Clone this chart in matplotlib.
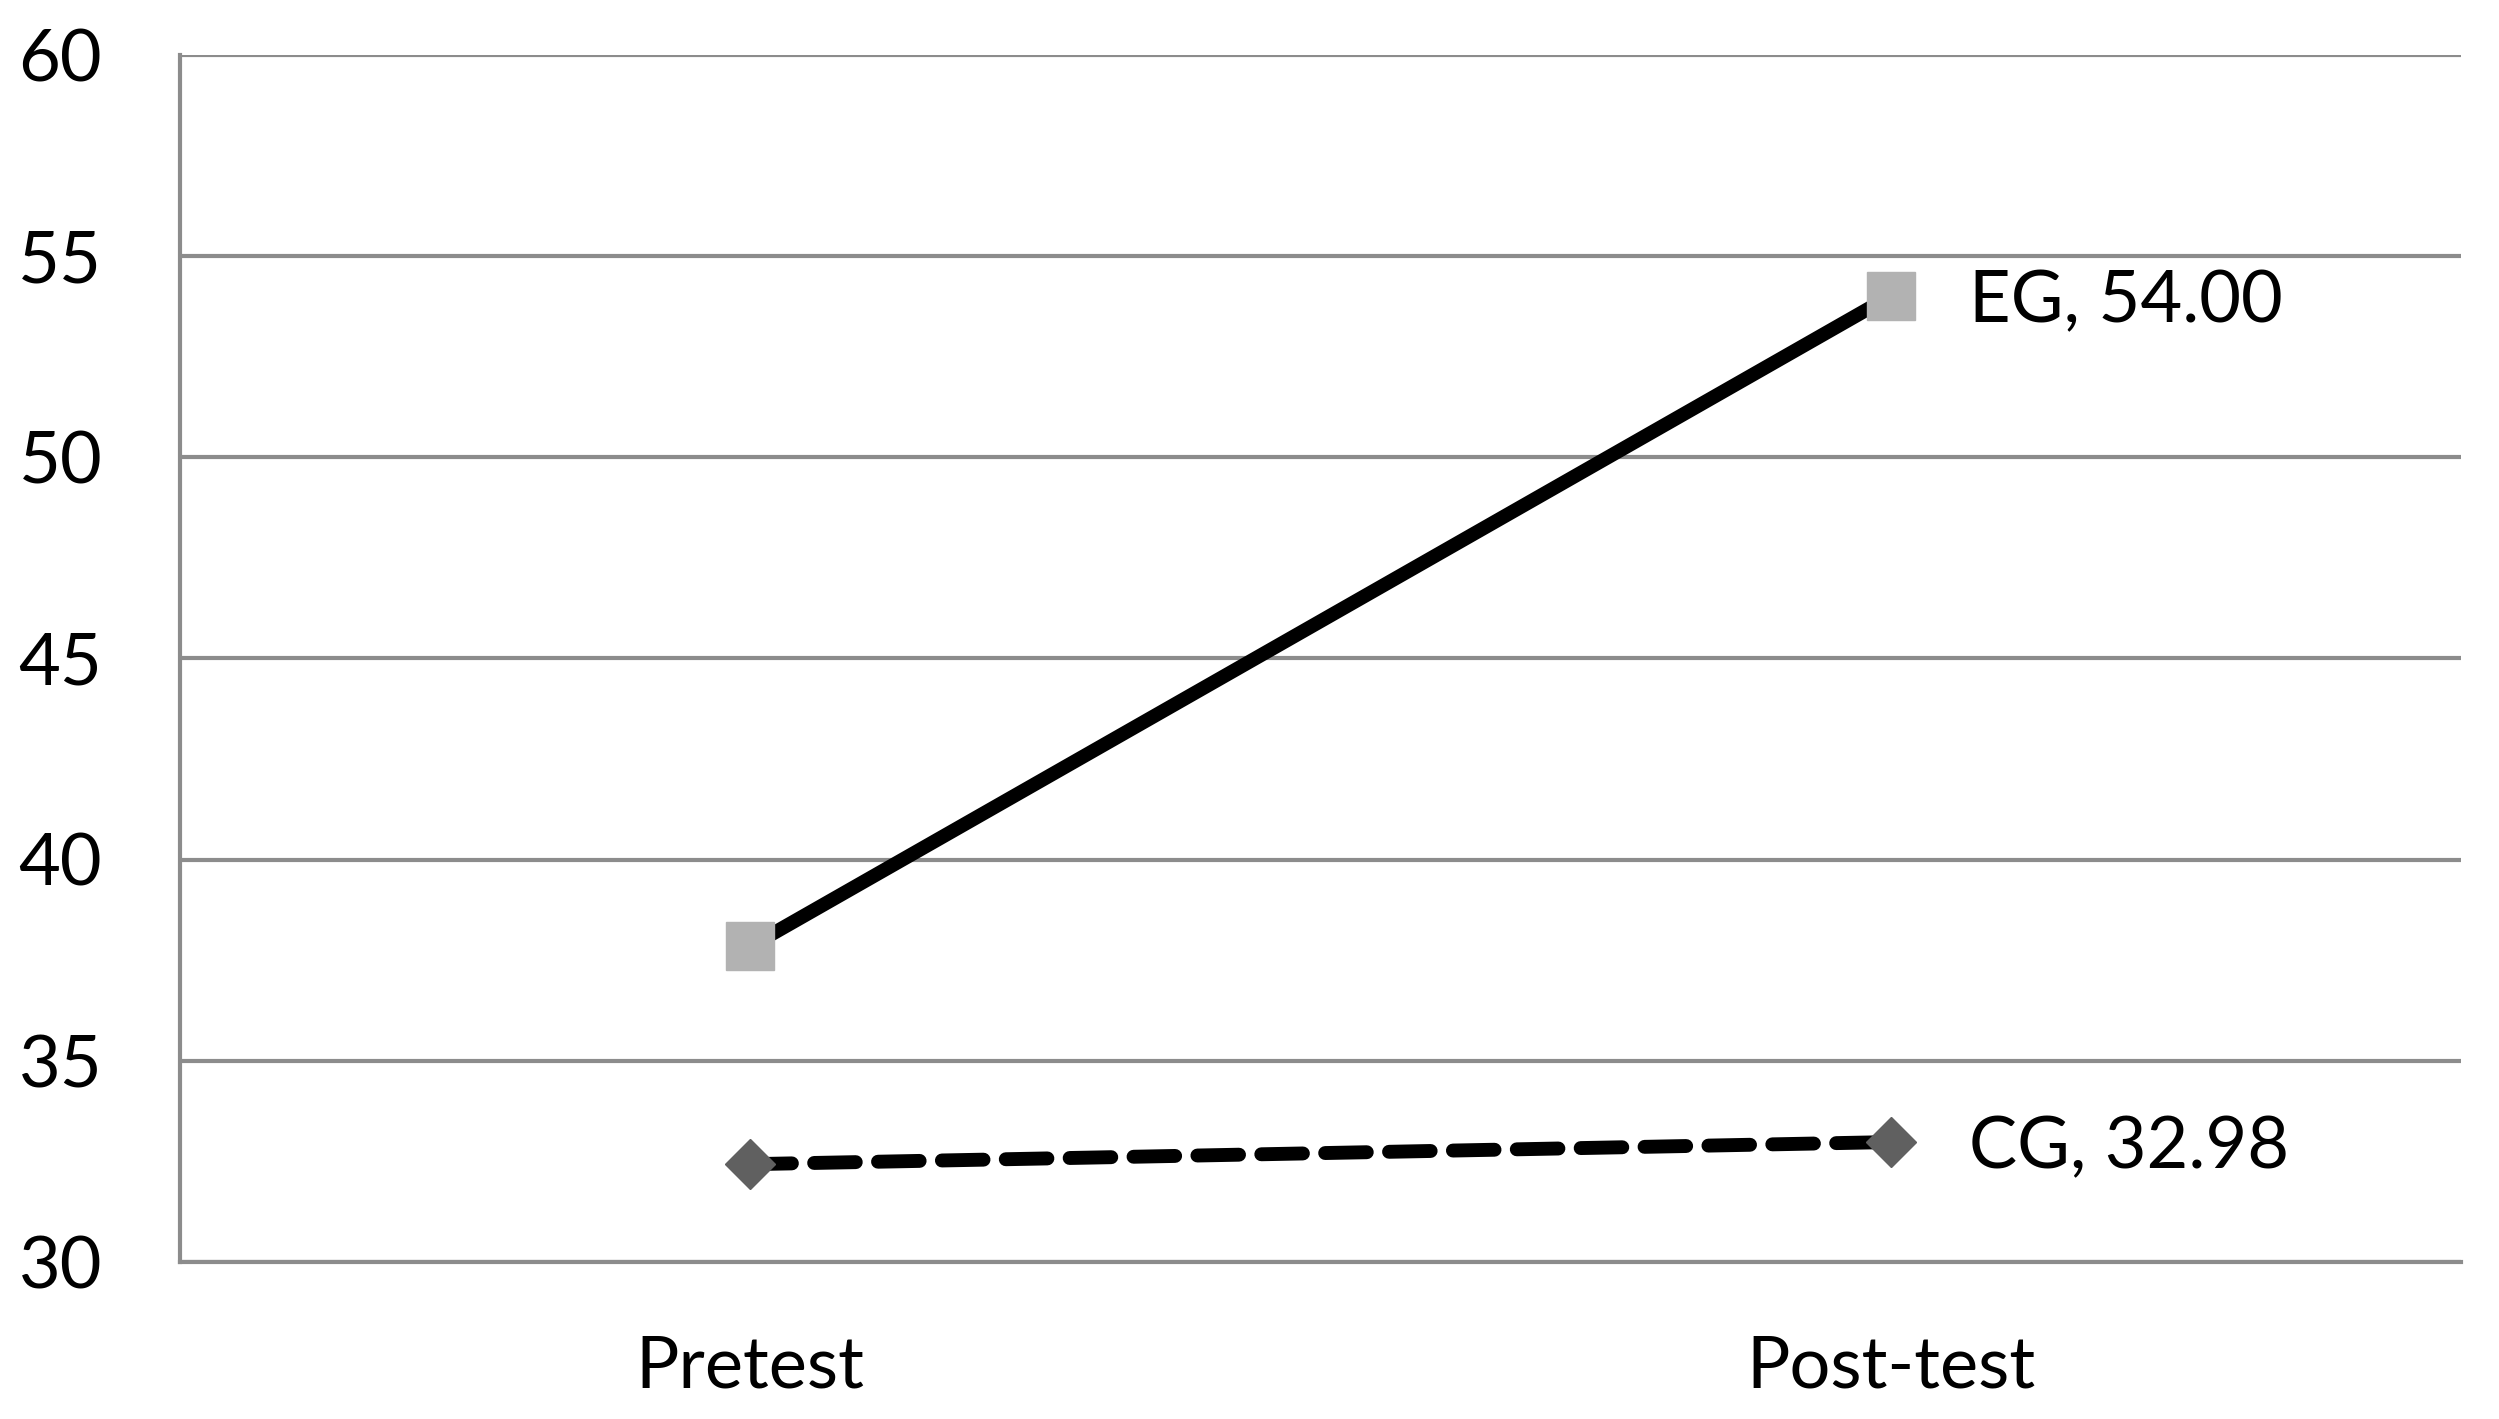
import matplotlib
matplotlib.use("Agg")
import matplotlib.pyplot as plt

# chart data
phases = ["Pretest", "Post-test"]
eg_scores = [37.84, 54.00]
cg_scores = [32.43, 32.98]
group_names = ["EG", "CG"]
y_ticks = [30, 35, 40, 45, 50, 55, 60]

plt.rcParams["font.family"] = ["Lato", "DejaVu Sans"]

fig = plt.figure(figsize=(24.99, 14.19), dpi=100)
ax = fig.add_axes([180 / 2499, 1 - 1262 / 1419, (2461 - 180) / 2499, (1262 - 54.5) / 1419])

x = list(range(len(phases)))
grid_col = "#8c8c8c"
fs = 52

# EG: solid black line, light grey squares
ax.plot(x, eg_scores, color="black", lw=10, solid_capstyle="butt", zorder=3)
ax.plot(x, eg_scores, ls="none", marker="s", ms=34, color="#b2b2b2",
        mec="#b2b2b2", zorder=4)

# CG: dashed black line, dark grey diamonds
ax.plot(x, cg_scores, color="black", lw=10, ls=(0, (3.0, 1.6)),
        dash_capstyle="round", zorder=3)
ax.plot(x, cg_scores, ls="none", marker="D", ms=25, color="#606060",
        mec="#606060", zorder=4)

# data labels on the last point
for name, series in zip(group_names, [eg_scores, cg_scores]):
    ax.annotate(f"{name}, {series[-1]:.2f}", (x[-1], series[-1]),
                xytext=(56, -4), textcoords="offset points",
                va="center", ha="left", fontsize=fs)

ax.set_xlim(-0.5, len(phases) - 0.5)
ax.set_ylim(30, 60)
ax.set_yticks(y_ticks)
ax.set_xticks(x)
ax.set_xticklabels(phases)
ax.tick_params(axis="both", length=0, labelsize=fs)
ax.tick_params(axis="y", pad=56)
ax.tick_params(axis="x", pad=52)

ax.yaxis.grid(True, color=grid_col, lw=3)
ax.set_axisbelow(True)
for side in ["top", "right"]:
    ax.spines[side].set_visible(False)
for side in ["left", "bottom"]:
    ax.spines[side].set_color(grid_col)
    ax.spines[side].set_linewidth(3)

fig.savefig("out.png", dpi=100, facecolor="white")
